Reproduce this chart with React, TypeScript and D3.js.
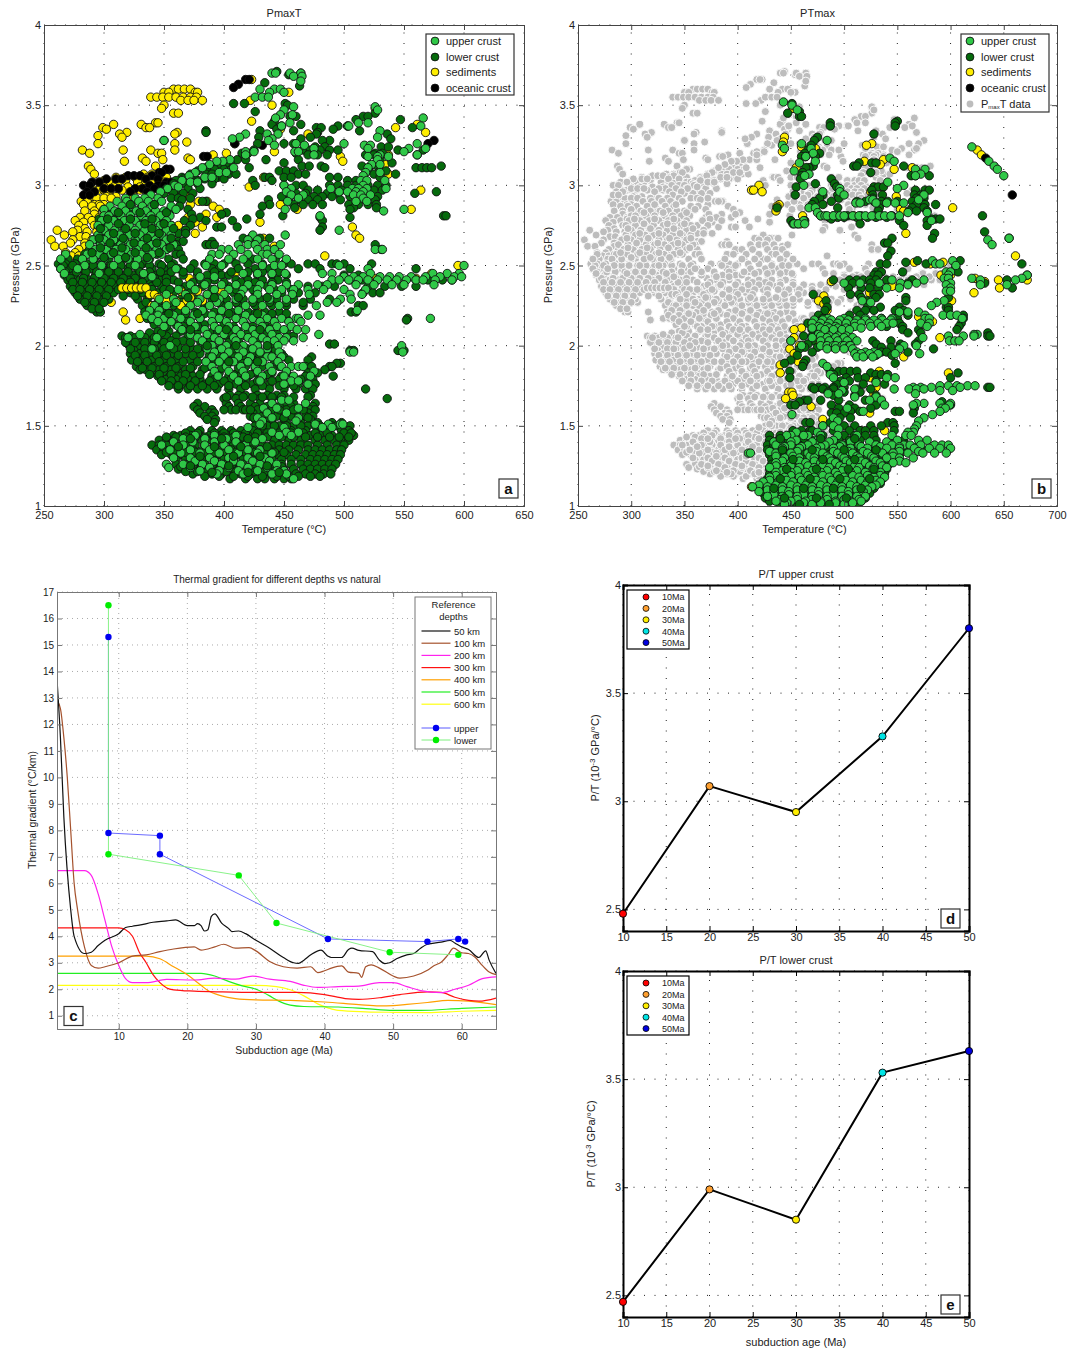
import * as d3 from "d3";
import { useEffect, useRef } from "react";

// scatter values: [pressure, [temperatures]]
type Row = [number, number[]];

const aSediments: Row[] = [
  [3.66, [423]], [3.58, [454]], [3.6, [358, 362, 367, 372]], [3.58, [350, 354, 376, 378]],
  [3.55, [339, 344, 349, 354, 360, 366, 372, 377]], [3.53, [364, 370, 375, 382]],
  [3.5, [350, 440]], [3.48, [348, 526]], [3.45, [358, 362]], [3.53, [422]], [3.4, [423]],
  [3.39, [343, 345]], [3.38, [308, 331, 561]], [3.36, [299, 335, 338, 543]], [3.35, [302, 447]],
  [3.33, [319, 361, 568]], [3.32, [313, 359, 470]], [3.31, [295]], [3.3, [315]], [3.27, [369]],
  [3.26, [295, 359, 409]], [3.22, [282, 316, 359, 339]], [3.21, [442]], [3.2, [288, 345, 348, 402]],
  [3.19, [391, 537]], [3.18, [497]], [3.17, [332, 370]], [3.16, [349, 372]], [3.15, [317, 335, 499]],
  [3.13, [534]], [3.12, [287, 343]], [3.1, [289, 352]], [3.07, [292, 537, 333, 340, 348]],
  [3.05, [310, 318, 326, 336, 344, 352, 433]], [3.03, [300, 318, 334, 344]], [3.02, [296, 304, 312, 328, 340, 350, 358]],
  [2.99, [421, 300, 308, 320, 330, 346, 356]], [2.97, [564, 292, 296, 300, 305, 315, 325, 330, 338, 352]],
  [2.93, [290, 302, 310, 322, 371]], [2.92, [294, 300, 306]], [2.9, [281, 286, 379, 386]], [2.88, [447, 283, 292, 296, 300, 372]],
  [2.87, [290, 297, 391]], [2.85, [461, 396, 556]], [2.84, [284, 292, 300]], [2.82, [385, 292]], [2.8, [280, 287, 394, 296, 370]],
  [2.78, [276, 290, 298]], [2.77, [283, 430, 376]], [2.75, [279, 292, 362]], [2.74, [507, 382]], [2.73, [284, 295]], [2.72, [261, 278, 368]],
  [2.71, [274, 286, 294]], [2.7, [376]], [2.69, [267, 510]], [2.68, [280, 285, 295]], [2.67, [433, 513]], [2.66, [256, 274, 290]],
  [2.64, [272, 284]], [2.62, [259, 266, 442, 284]], [2.6, [279, 442]], [2.58, [268, 276, 286]], [2.56, [273, 279, 284, 484]], [2.5, [595]],
  [2.46, [410]], [2.45, [573]], [2.42, [371, 527, 560]],
  [2.29, [303]], [2.27, [306]], [2.21, [316]], [2.17, [330]], [2.16, [318]], [2.22, [432]],
];

// yellow tracks that sit on top of the dark crust in the middle of panel a
const aSedimentsOver: Row[] = [
  [2.36, [315, 319, 323, 327, 331, 335]], [2.34, [364, 378, 398]], [2.32, [338, 342, 386]],
  [2.3, [345, 350, 355, 372]], [2.28, [352, 360, 369, 382]], [2.25, [340, 364]],
];

const aOceanic: Row[] = [
  [3.66, [418, 421]], [3.63, [412]], [3.61, [408]], [3.28, [575]], [3.26, [570, 409]], [3.25, [432]],
  [3.18, [383, 386]], [3.1, [355, 352]], [3.08, [346, 348]], [3.06, [340, 320, 325, 330]],
  [3.04, [302, 310, 315, 335, 345]], [3.02, [352, 356, 290, 296]], [3.0, [283, 288, 345, 350, 338]],
  [2.98, [332, 300, 306, 312, 342, 326]], [2.96, [286, 292, 336, 322]], [2.94, [283, 288]],
];

const aLower: Row[] = [
  [3.71, [444]], [3.7, [464]], [3.69, [454]], [3.64, [434]], [3.62, [463]], [3.51, [408, 417, 451]],
  [3.5, [453]], [3.46, [426]], [3.45, [526]], [3.43, [460, 516, 520, 455]], [3.41, [510, 547]],
  [3.4, [442]], [3.38, [440, 464]], [3.37, [495, 503, 448]], [3.36, [477, 481, 557]], [3.35, [491, 444]],
  [3.34, [385, 430, 458, 513]], [3.33, [385, 478]], [3.32, [477, 536]], [3.3, [429, 472]], [3.29, [539, 464]],
  [3.28, [350, 488, 482]], [3.26, [458, 428, 450]], [3.24, [531, 537, 476, 484]],
  [3.22, [566, 545, 466, 472, 480, 488, 495, 425]], [3.2, [415, 420, 460, 526, 532]],
  [3.19, [561, 470, 478, 486, 518, 525]], [3.16, [411, 418, 435, 462, 530]],
  [3.14, [405, 398, 450, 540]], [3.12, [392, 395, 402, 465, 471, 481, 581, 515, 522, 528]],
  [3.11, [560, 565, 569, 573, 421, 385, 484]], [3.1, [386, 392, 400, 406]], [3.09, [378, 446, 452, 458, 530, 535, 520]],
  [3.07, [372, 385, 390, 396, 404, 410, 543, 525, 462, 468]], [3.05, [365, 434, 438, 450, 456, 488, 495, 530, 395]],
  [3.04, [366, 376, 384, 392, 400]], [3.03, [360, 370, 378, 424, 440, 503, 510]], [3.01, [358, 368, 378, 390]],
  [3.0, [426, 450, 460, 466, 488, 495, 503, 510, 520, 528, 535]], [2.98, [352, 360, 370, 380]],
  [2.97, [360, 455, 470, 478, 498, 508, 516, 525, 532]], [2.96, [577]], [2.95, [559, 350, 358, 366, 374, 460, 468, 486, 495]],
  [2.93, [448, 455, 475, 482, 490, 505, 512, 520, 528]], [2.92, [356, 362, 372]], [2.91, [365, 437, 462, 470, 478, 497, 518, 526]],
  [2.9, [385, 382]], [2.88, [458, 466, 474, 482, 504, 512, 520, 527, 438]], [2.87, [432, 363]],
  [2.86, [527, 508, 459]], [2.85, [300, 330, 355, 370, 505]],
  [2.83, [402, 307, 322, 340]], [2.82, [430, 398, 373]], [2.81, [449, 583, 585]], [2.8, [480, 505, 380]],
  [2.79, [419, 374, 296, 312, 330, 350]], [2.78, [407, 482, 367, 385]], [2.75, [300, 318, 336, 356, 372]],
  [2.74, [394, 398, 411, 482]], [2.72, [480, 300, 326, 345, 368]], [2.7, [302, 322, 340, 362, 368]],
  [2.67, [416, 422, 430, 438]], [2.65, [296, 312, 330, 350, 362, 366, 390]],
  [2.63, [526, 385, 388, 392, 308, 340, 360]], [2.6, [288, 300, 318, 336, 352, 362, 531]],
  [2.57, [284, 310, 328, 344, 360, 364]], [2.54, [270, 278, 292, 304, 322, 338, 354, 366, 406, 424, 443]],
  [2.51, [523, 262, 268, 276, 286, 298, 314, 332, 346, 358, 375, 384, 392, 400, 410, 420, 432, 450, 456, 470, 476, 490, 494, 500]],
  [2.48, [264, 272, 281, 290, 302, 310, 320, 328, 340, 350, 362, 372, 390, 396, 412, 426, 438, 446, 462, 480, 505, 560]],
  [2.44, [267, 275, 284, 293, 300, 308, 316, 324, 334, 344, 352, 366, 378, 386, 398, 404, 418, 428, 440, 452, 500, 512]],
  [2.41, [270, 280, 288, 296, 304, 312, 320, 330, 338, 346, 358, 380, 392, 410, 420, 432, 445, 505, 515, 528, 560, 570, 582, 590]],
  [2.37, [272, 278, 286, 294, 302, 310, 318, 326, 340, 348, 368, 382, 398, 404, 418, 436, 470, 482, 492, 520, 534, 548, 560]],
  [2.33, [276, 284, 292, 300, 308, 322, 332, 344, 358, 372, 392, 408, 426, 448, 462, 476, 516, 524, 530]],
  [2.29, [280, 288, 296, 304, 328, 336, 350, 364, 376, 390, 402, 416, 430, 444, 458, 472, 488]],
  [2.25, [286, 293, 332, 340, 346, 358, 370, 384, 398, 412, 426, 440, 452, 466, 512, 516]],
  [2.21, [294, 297, 334, 344, 352, 362, 376, 392, 406, 420, 434, 446, 506, 510]],
  [2.17, [336, 346, 356, 368, 380, 396, 410, 424, 440, 452, 553]], [2.16, [552, 340, 350]],
  [2.13, [342, 350, 360, 372, 384, 400, 418, 434]],
  [2.09, [345, 354, 364, 378, 394, 412, 428, 444, 452]],
  [2.06, [315, 322, 330, 352, 360, 370, 386, 402, 418, 436, 458]], [2.03, [322, 330, 338, 346, 356, 366, 380, 396, 412, 428]],
  [2.01, [488, 492, 320, 342, 350]], [1.99, [330, 338, 346, 354, 362, 372, 384, 398, 414, 428, 440]],
  [1.97, [505, 508, 325, 550, 547, 545, 443]], [1.95, [322, 330, 338, 348, 358, 368, 380, 394, 408, 424, 436, 448]],
  [1.93, [473, 327, 450]], [1.91, [323, 332, 340, 350, 360, 372, 386, 400, 414, 428, 442, 454, 470]],
  [1.89, [497, 494]], [1.87, [327, 333, 342, 352, 362, 374, 388, 402, 418, 432, 446, 468, 488, 490, 473]],
  [1.85, [330, 335, 484, 346, 356, 368, 382]], [1.83, [340, 350, 362, 372, 396, 412, 426, 440, 452, 470, 478]],
  [1.81, [345, 355, 364, 374, 390, 404, 420, 434, 448, 491, 468]], [1.79, [352, 360, 370, 380, 392, 406, 418, 432, 446, 464, 474]],
  [1.76, [358, 366, 374, 384, 396, 410, 424, 438, 452, 462, 470, 476]],
  [1.73, [362, 370, 378, 386, 394, 404, 414, 426, 438, 450, 460, 468, 474, 518]],
  [1.69, [405, 412, 418, 428, 436, 444, 450, 472]], [1.67, [536, 400, 410, 430, 440, 448]],
  [1.64, [378, 402, 412, 422, 430, 440, 452, 458, 476]], [1.62, [375, 384, 404, 414, 426, 436, 446, 456, 468, 474]],
  [1.6, [378, 390, 406, 410, 416, 428, 440, 452, 462, 472, 476]], [1.58, [380, 388, 392, 424, 436, 448, 460, 470]],
  [1.56, [384, 390, 422, 432, 444, 456, 468, 474]], [1.54, [386, 393, 426, 438, 450, 462, 472]],
  [1.52, [392, 428, 440, 452, 464, 478, 490, 498]],
  [1.5, [426, 436, 446, 458, 470, 480, 490, 505, 494]],
  [1.47, [372, 380, 390, 398, 406, 414, 424, 432, 444, 456, 468, 478, 488, 498, 504]],
  [1.44, [358, 364, 372, 380, 388, 396, 404, 412, 420, 430, 440, 450, 462, 472, 480, 490, 500, 508]],
  [1.41, [346, 352, 358, 366, 374, 382, 390, 398, 406, 414, 422, 430, 442, 454, 464, 476, 484, 492, 498, 504]],
  [1.38, [340, 346, 352, 360, 368, 376, 384, 392, 400, 408, 416, 424, 432, 440, 446, 452, 458, 464, 470, 478, 486, 494, 500]],
  [1.35, [344, 350, 358, 366, 374, 382, 390, 398, 406, 414, 422, 430, 438, 446, 454, 462, 470, 476, 482, 488, 494, 498]],
  [1.32, [348, 356, 364, 372, 380, 388, 396, 404, 412, 420, 428, 436, 444, 452, 460, 468, 474, 480, 486, 492, 497]],
  [1.29, [360, 368, 376, 384, 392, 400, 408, 416, 424, 432, 440, 448, 456, 464, 472, 478, 484, 490, 495]],
  [1.26, [360, 368, 376, 384, 392, 400, 408, 416, 424, 432, 440, 448, 456, 464, 470, 476, 482, 488, 493]],
  [1.23, [362, 372, 380, 388, 396, 404, 412, 420, 428, 436, 444, 450, 458, 466, 472, 478, 484, 490]],
  [1.2, [374, 384, 390, 398, 406, 414, 422, 430, 438, 446, 452, 460, 468, 476, 483, 489]],
  [1.17, [405, 418, 428, 434, 442, 450, 456]],
];

const aLowerFill: Row[] = [
  [2.5, [266, 274, 283, 291, 299, 306, 314, 322, 330, 338, 348, 356]],
  [2.46, [268, 277, 285, 294, 304, 312, 320, 330, 338, 347, 356, 366, 378, 392, 406, 420, 432, 446]],
  [2.42, [272, 283, 292, 300, 308, 316, 326, 334, 342, 352]],
  [2.395, [274, 282, 290, 298, 306, 314, 322, 332, 344, 352, 362, 374, 386, 400, 414, 426, 440, 452]],
  [2.35, [274, 280, 288, 296, 304, 312, 320, 330, 340, 350, 355, 364, 378, 390, 410, 424, 442, 456]],
  [2.31, [278, 286, 294, 302, 316, 326, 338, 352]],
  [2.27, [284, 292, 300, 335, 345, 355, 365, 382, 396, 410, 424, 438, 452, 466]],
  [2.23, [290, 296, 338, 348]],
  [2.2, [356, 368, 384, 398, 412, 426, 440, 452]],
  [2.12, [352, 366, 378, 392, 408, 424, 440]],
  [2.08, [338, 348, 372, 388, 404, 420, 436]],
  [2.05, [318, 326, 334, 342]],
  [2.02, [318, 326, 334, 342, 350, 360, 372, 388, 404]],
  [1.98, [322, 334, 342, 350, 358, 368, 378, 392, 408, 420]],
  [1.94, [326, 334, 344, 352, 362, 374, 388, 402, 416, 430]],
  [1.9, [328, 336, 346, 356, 366, 378, 392, 406, 422]],
  [1.86, [332, 340, 350, 360, 372, 384, 398, 412, 426, 440]],
  [1.82, [338, 346, 356, 368, 380, 394, 408, 422, 436]],
  [1.78, [348, 356, 366, 376, 388, 400, 414, 428, 440]],
  [1.75, [354, 362, 372, 382, 392, 404, 418, 432, 446, 458]],
  [1.68, [402, 416, 424, 432, 440, 448, 458, 470]],
  [1.6, [400, 418, 422, 434, 446, 458, 466]],
  [1.55, [425, 438, 450, 462, 470]],
  [1.5, [432, 442, 452, 464, 476, 486]],
  [1.455, [368, 378, 392, 400, 408, 418, 428, 436, 446, 456, 466, 476, 486, 500, 506]],
  [1.43, [352, 360, 368, 376, 384, 392, 400, 408, 416, 426, 436, 448, 458, 468, 478, 488, 496, 504]],
  [1.335, [352, 360, 368, 376, 384, 392, 402, 410, 418, 426, 434, 442, 450]],
  [1.245, [364, 374, 382, 390, 398, 406, 414, 424, 432, 440, 448]],
  [1.215, [368, 378, 386, 394, 402, 410, 418, 426, 434, 442]],
  [1.185, [384, 396, 408, 420, 432, 444, 454, 462, 472, 480]],
];

const aUpper: Row[] = [
  [3.7, [440, 443, 455, 464]], [3.68, [458, 465]], [3.65, [464]], [3.6, [430, 442, 447]], [3.58, [438, 450]],
  [3.55, [426, 432, 437]], [3.49, [458, 526]], [3.47, [528, 450]], [3.44, [447, 457]], [3.42, [443, 566]],
  [3.39, [455, 512, 520]], [3.37, [448, 503, 504, 564]], [3.34, [530]], [3.32, [445, 436, 418]], [3.3, [528, 413]],
  [3.29, [407, 440]], [3.28, [350, 437]], [3.26, [460, 500, 561]], [3.25, [442, 467, 517, 522]],
  [3.23, [475, 520, 554, 568]], [3.21, [459, 462, 550, 418, 425]], [3.19, [475, 561, 530, 418]],
  [3.18, [520, 528, 537]], [3.16, [405, 528]], [3.15, [399, 394]], [3.13, [523, 388, 530]], [3.11, [382, 520, 408]],
  [3.08, [376, 518, 530, 396, 402]], [3.06, [371, 516]], [3.05, [384, 390]], [3.03, [365, 514, 519, 534]], [3.02, [372, 378]], [3.0, [359, 450, 516]],
  [2.99, [362]], [2.98, [353, 456, 489, 507, 512, 519, 535]], [2.96, [347, 452, 496, 503, 510, 516]],
  [2.94, [339, 456, 466, 508, 514, 522]], [2.92, [318, 326, 334, 345, 462, 516]],
  [2.9, [311, 319, 329, 337, 348, 453, 510, 519]], [2.87, [305, 315, 323, 332, 340, 356]],
  [2.85, [451, 360, 300, 550]], [2.84, [309, 318, 327, 335, 343, 350, 533]],
  [2.81, [300, 304, 314, 322, 331, 339, 347, 355, 480]], [2.78, [298, 308, 317, 326, 335, 343, 352]],
  [2.75, [295, 304, 313, 321, 330, 339, 347, 356]], [2.72, [300, 309, 317, 326, 334, 343, 352, 496]],
  [2.69, [295, 304, 313, 321, 330, 339, 348, 356, 451, 424]], [2.66, [291, 300, 308, 317, 326, 334, 343, 352, 420, 428]],
  [2.63, [288, 297, 305, 314, 322, 331, 339, 348, 358, 412, 420, 426, 434, 447]],
  [2.6, [293, 302, 310, 318, 327, 336, 344, 352, 398, 404, 414, 428, 436, 442, 526, 532]],
  [2.57, [268, 286, 296, 306, 314, 323, 331, 340, 348, 390, 396, 408, 420, 432, 436, 446]],
  [2.54, [264, 282, 291, 300, 312, 320, 328, 337, 388, 404, 416, 428, 440, 452]],
  [2.5, [284, 298, 308, 326, 385, 398, 432, 442, 448, 496, 600]], [2.48, [264, 278, 360, 520]],
  [2.45, [267, 296, 333, 416, 428, 440, 451, 482, 490, 522, 574, 586, 596]],
  [2.43, [340, 380, 392, 500, 508, 516, 530, 538, 546, 556, 568, 580, 592, 598]],
  [2.41, [490, 496, 504, 512, 520, 528, 536, 544, 552, 560, 566, 576, 590]],
  [2.38, [372, 384, 398, 410, 420, 430, 440, 452, 462, 478, 486, 510, 525, 540, 550, 575]],
  [2.35, [362, 376, 392, 404, 416, 428, 438, 448, 458, 470, 483, 500, 518]],
  [2.32, [352, 368, 386, 400, 414, 428, 444, 457, 471, 505, 515]],
  [2.29, [346, 358, 380, 396, 410, 424, 438, 452, 497, 506]], [2.27, [360, 378, 394, 486, 494]],
  [2.25, [342, 352, 372, 388, 404, 418, 432, 446, 477]], [2.22, [338, 346, 368, 382, 398, 412, 511]],
  [2.19, [335, 345, 358, 375, 390, 405, 418, 432, 480, 470]],
  [2.17, [340, 350, 364, 380, 396, 410, 424, 436, 448, 460, 462, 572]], [2.15, [345, 356, 372, 390, 402, 416, 430, 442, 454, 464]],
  [2.12, [350, 362, 376, 392, 404, 418, 432, 444, 456]], [2.1, [365, 384, 396, 410, 424, 438, 450, 461, 468]],
  [2.07, [330, 372, 386, 400, 414, 426, 440, 479]], [2.05, [320, 344, 378, 392, 408, 420, 432, 446, 452, 466]],
  [2.03, [382, 396, 410, 424, 436, 442, 450, 458]], [2.0, [548, 355, 390, 402, 416, 428, 445]],
  [1.98, [340, 386, 398, 412, 424, 436]], [1.96, [505, 508, 392, 404, 416, 430, 446, 549]],
  [1.93, [390, 400, 412, 422, 436, 440, 448]], [1.9, [385, 396, 408, 420, 432, 445]],
  [1.87, [390, 402, 414, 426, 438, 448, 456, 462, 466]], [1.84, [392, 404, 416, 428, 440, 452, 475]],
  [1.81, [395, 408, 418, 432, 450, 458, 472]], [1.78, [412, 430, 456, 462]], [1.76, [450, 470]],
  [1.66, [448, 454]], [1.64, [440, 468]], [1.61, [433, 444, 462]], [1.58, [436, 452]], [1.55, [428, 440, 462]],
  [1.53, [432, 460]], [1.51, [430, 476, 487, 497, 499]], [1.49, [420, 450, 482, 490]],
  [1.46, [440, 452, 462]], [1.44, [376, 392, 410, 446, 456]], [1.42, [366, 384, 402, 420, 432]],
  [1.4, [358, 374, 392, 410, 426]], [1.38, [348, 366, 384, 400, 418]],
  [1.35, [355, 372, 388, 404, 420, 430]], [1.33, [364, 380, 396, 412, 428, 440]],
  [1.3, [358, 372, 388, 404, 420, 434]], [1.28, [376, 392, 408, 424, 438]],
  [1.26, [352, 366, 382, 398, 414, 430, 444]], [1.24, [354, 372, 388, 404, 420, 436]],
  [1.22, [380, 396, 412, 428, 444, 450]], [1.2, [394, 416, 440, 452]], [1.17, [458]],
];

// dark points that lie on top of the light ones
const aLowerOver: Row[] = [
  [2.88, [322, 342]], [2.83, [312, 330, 352]], [2.79, [303, 322, 340]], [2.76, [312, 334, 350]],
  [2.73, [297, 318, 340, 358]], [2.7, [308, 326, 346]], [2.67, [296, 316, 336, 356]], [2.64, [305, 325, 344]],
  [2.61, [297, 315, 335, 355]], [2.58, [290, 308, 326, 346]], [2.55, [300, 318, 336]],
  [2.3, [370, 392, 412, 436]], [2.2, [354, 378, 404, 428]], [2.1, [372, 402, 430]], [2.0, [386, 410, 436]],
  [1.9, [404, 428]], [1.42, [372, 398, 420]], [1.37, [362, 392, 414, 436]], [1.31, [380, 408, 430]],
  [1.25, [372, 404, 436]], [1.21, [390, 420, 446]],
];

const bSediments: Row[] = [
  [3.48, [452]], [3.3, [444]], [3.27, [443]], [3.26, [526]], [3.25, [521]], [3.24, [460]], [3.23, [473]],
  [3.22, [625]], [3.21, [442]], [3.19, [629]], [3.16, [537]], [3.15, [519]], [3.13, [534]], [3.11, [564, 455]],
  [3.1, [547]], [3.0, [420]], [2.97, [413, 415]], [2.96, [423, 525]], [2.93, [549]], [2.88, [439]],
  [2.87, [437]], [2.86, [602]], [2.85, [553]], [2.84, [436, 556]], [2.81, [478, 509, 461]], [2.76, [459]],
  [2.7, [558]], [2.56, [661]], [2.52, [566, 593]], [2.51, [581]], [2.44, [600, 591]], [2.42, [623]],
  [2.41, [645, 672]], [2.4, [632, 488, 530]], [2.37, [545]], [2.36, [646]], [2.33, [622, 524]], [2.31, [481]],
  [2.28, [601, 476]], [2.26, [481]], [2.22, [484]], [2.18, [570]], [2.15, [583, 511]], [2.11, [460]],
  [2.1, [453, 481]], [2.05, [590, 453]], [2.03, [450, 480, 473]], [2.0, [458, 462]], [1.98, [449]], [1.95, [453]],
  [1.93, [556]], [1.9, [457]], [1.88, [440]], [1.84, [533]], [1.83, [440, 598]], [1.8, [525]], [1.74, [530]],
  [1.71, [448, 451]], [1.7, [528]], [1.69, [452]], [1.67, [445]], [1.62, [469]], [1.58, [524]], [1.54, [480]],
  [1.47, [538, 516]], [1.38, [525]], [1.36, [432]], [1.32, [436]], [1.29, [519]], [1.12, [413]],
];

const bOceanic: Row[] = [[3.17, [633]], [2.94, [658]]];

const bLower: Row[] = [
  [3.51, [451]], [3.46, [458]], [3.45, [447]], [3.43, [458, 460]], [3.4, [550]], [3.39, [487, 548]], [3.37, [487, 548]],
  [3.32, [528]], [3.3, [475]], [3.28, [472]], [3.25, [469]], [3.22, [466]], [3.2, [463, 477]], [3.18, [460, 464, 473]],
  [3.14, [526, 514, 530]], [3.12, [509, 512, 556, 471]], [3.11, [467, 464]], [3.08, [525, 461]], [3.06, [460, 580, 563, 567]],
  [3.04, [488, 459]], [3.01, [491, 473]], [2.99, [455, 493, 528, 532, 537]], [2.97, [567, 576, 580, 526]],
  [2.94, [454, 527, 536, 566, 572, 480, 494]], [2.92, [477, 495, 527, 568, 575]], [2.9, [472, 488, 512, 520, 528, 535, 541, 550, 564, 572]],
  [2.88, [470, 480, 586, 534, 568, 576]], [2.86, [437, 494, 533, 564, 575]], [2.84, [532, 561, 568, 578]],
  [2.81, [630, 490, 503, 516, 528, 534, 545]], [2.8, [486, 494, 500, 512, 522, 530, 540]], [2.79, [488, 586, 582, 590]], [2.78, [450, 463, 552, 578]],
  [2.76, [452, 515, 456]], [2.75, [556, 578]], [2.71, [632]], [2.7, [585]], [2.67, [545, 583, 655]], [2.64, [538, 541]],
  [2.59, [544]], [2.56, [541]], [2.53, [569, 609]], [2.52, [558]], [2.51, [577, 667, 534, 540]], [2.49, [605]],
  [2.46, [530, 535, 555, 607]], [2.44, [528, 532, 672]], [2.41, [490, 505, 512, 518, 524, 530, 653, 540, 564]],
  [2.39, [508, 525, 628, 632, 560]], [2.36, [504, 516, 524, 532, 658]], [2.32, [471, 506, 514, 528, 533]],
  [2.3, [516, 530, 558, 598]], [2.28, [558, 483, 522]], [2.24, [484, 522, 534, 552, 596, 598]],
  [2.22, [482, 512, 520, 528, 548, 556, 598]], [2.19, [476, 505, 515, 600, 612, 560]], [2.17, [612, 480, 535, 550]],
  [2.14, [466, 470, 528, 540, 552, 610]], [2.12, [540, 555, 608]], [2.1, [470, 475, 555, 570, 606]],
  [2.08, [560, 572, 635]], [2.06, [635, 637, 462, 470]], [2.03, [470, 527, 544, 570]], [2.01, [466, 480, 530, 553, 567]],
  [1.99, [463, 475, 490, 535, 544, 552]], [1.98, [584, 458]], [1.96, [470, 535, 540, 560]], [1.94, [456, 530, 520, 545]],
  [1.91, [450, 464]], [1.89, [548, 444, 462]], [1.87, [461]], [1.84, [449, 487, 495, 500, 506, 512]],
  [1.83, [607, 525]], [1.82, [490, 530, 535, 541]], [1.8, [449, 513, 600, 502, 520]], [1.78, [497, 505, 530]],
  [1.76, [493, 518, 538]], [1.74, [635, 637, 470, 476, 482, 490, 500]], [1.73, [472, 480, 490, 512, 525]],
  [1.71, [485, 500, 515]], [1.69, [490, 510, 530]], [1.66, [463, 466, 478, 495, 520, 527]], [1.65, [592, 458]],
  [1.63, [450, 454, 488, 505, 530, 600]], [1.61, [495, 510, 525, 566]], [1.59, [548, 506, 515, 552]],
  [1.58, [500, 488, 493, 565]], [1.55, [496, 506]], [1.52, [464, 468, 487, 541, 546]], [1.5, [480, 500, 510, 525, 535, 547]],
  [1.47, [452, 460, 468, 515, 520, 528, 470, 490, 505, 547]], [1.44, [430, 440, 448, 456, 464, 480, 500, 510, 520, 528]],
  [1.41, [430, 438, 446, 454, 462, 470, 495, 505, 515, 530, 548, 556]],
  [1.38, [428, 434, 442, 450, 458, 466, 480, 490, 500, 510, 530, 540, 548, 558, 570]],
  [1.35, [428, 436, 444, 452, 460, 468, 476, 484, 492, 500, 508, 516, 524, 532, 560, 574]],
  [1.32, [430, 438, 446, 454, 462, 470, 478, 486, 494, 502, 510, 518, 526, 534, 542, 552]],
  [1.29, [432, 440, 448, 456, 464, 472, 480, 488, 496, 504, 512, 520, 528, 536, 544]],
  [1.26, [432, 438, 446, 454, 462, 470, 478, 486, 494, 502, 510, 518, 526, 534, 542]],
  [1.23, [430, 436, 444, 452, 460, 468, 476, 484, 492, 500, 508, 516, 524, 532, 540]],
  [1.2, [430, 436, 444, 452, 460, 468, 476, 484, 492, 500, 508, 516, 524, 532, 538]],
  [1.17, [428, 434, 442, 450, 458, 466, 474, 482, 490, 498, 506, 514, 522, 530, 536]],
  [1.14, [424, 432, 440, 448, 456, 464, 472, 480, 488, 496, 504, 512, 520, 528, 534]],
  [1.11, [420, 428, 436, 444, 452, 460, 468, 476, 484, 492, 500, 508, 516, 524, 528]],
  [1.08, [424, 432, 440, 448, 456, 464, 472, 480, 488, 496, 504, 512, 520, 524]],
  [1.05, [426, 434, 442, 450, 458, 466, 474, 482, 490, 498, 506, 514, 520]],
  [1.03, [430, 438, 446, 454, 462, 470, 478, 486, 494, 502, 510, 516]],
  [1.01, [440, 448, 456, 464, 472, 480, 488, 496, 504, 512]],
];

const bUpper: Row[] = [
  [3.52, [443]], [3.5, [451]], [3.47, [456]], [3.28, [484]], [3.26, [460]], [3.25, [442]], [3.24, [620]],
  [3.23, [469, 444]], [3.2, [471]], [3.18, [464]], [3.17, [543]], [3.15, [473, 636, 547]], [3.14, [458]],
  [3.12, [641]], [3.1, [644, 576, 567]], [3.09, [453]], [3.07, [572, 467]], [3.06, [650, 567, 463]], [3.02, [541]],
  [3.0, [462, 556]], [2.98, [550, 496]], [2.96, [496, 480]], [2.94, [575, 500]], [2.91, [524, 527, 570]],
  [2.89, [511, 515, 530, 540, 548, 556]], [2.86, [467, 473]], [2.83, [560, 578, 475]],
  [2.81, [478, 482, 484, 490, 496, 500, 508, 514, 520, 526, 533, 538, 544, 552]], [2.78, [582, 462]], [2.76, [453, 457, 463]], [2.67, [655]],
  [2.66, [635]], [2.63, [639]], [2.53, [583, 602]], [2.51, [586, 590]], [2.5, [605]],
  [2.46, [596, 600]], [2.44, [672, 598]], [2.42, [594, 598, 667, 620]], [2.41, [545, 661, 628, 575]],
  [2.39, [500, 515, 533, 553, 568, 600]], [2.38, [628, 653, 596, 560]], [2.36, [540, 552, 600]], [2.34, [596, 600]],
  [2.28, [594, 517]], [2.27, [587, 525]], [2.25, [582]], [2.21, [552, 560, 570]], [2.19, [576, 593, 600, 606]],
  [2.17, [485, 500, 520, 535, 545, 576, 580, 611]], [2.16, [472, 480, 488, 496, 504, 512, 520, 528, 536, 544]],
  [2.14, [470, 478, 486, 494, 502, 510, 516, 524, 532, 540, 546, 572, 580]],
  [2.12, [476, 484, 492, 510, 525, 535, 578]], [2.11, [470, 478, 486, 494, 502, 516]], [2.1, [482, 490, 498, 505]], [2.07, [476, 625, 622]],
  [2.06, [598, 612, 622, 478, 486, 494, 502]], [2.05, [470, 484, 492, 500, 508, 574]], [2.03, [450, 478, 486, 494, 503, 512, 599, 604, 608]],
  [2.0, [478, 484, 490, 492, 498, 500, 505, 506, 568, 460, 556]], [1.98, [484, 492, 500, 508, 552]], [1.96, [512, 520, 528]], [1.95, [510, 516, 524, 532, 571, 548]],
  [1.93, [512, 518, 527]], [1.89, [480]], [1.87, [484]], [1.82, [487]], [1.8, [490, 548, 540]], [1.77, [500, 530]],
  [1.75, [590, 598, 606, 616, 623]], [1.74, [565, 572, 582, 609]], [1.73, [561, 568, 575, 547, 510]],
  [1.72, [498, 590, 602]], [1.7, [485, 495, 567]], [1.68, [510, 530]], [1.66, [535, 524]], [1.64, [575, 568, 590, 600]],
  [1.63, [565, 599, 538]], [1.61, [592, 503, 595]], [1.59, [590, 518]], [1.57, [451, 583]], [1.55, [575, 490]],
  [1.53, [570, 494]], [1.5, [568, 480, 490]], [1.48, [566, 495]], [1.46, [565, 455, 475, 560]],
  [1.44, [450, 466, 545, 558, 563, 446, 462, 478, 494, 512]], [1.41, [440, 455, 475, 490, 550, 570, 578]],
  [1.4, [434, 450, 470, 486, 506, 524, 540]],
  [1.38, [436, 450, 466, 482, 498, 514, 530, 545, 556, 562, 572, 585, 592, 598]],
  [1.37, [444, 460, 478, 496, 516, 534, 552]],
  [1.36, [442, 458, 474, 490, 506, 522, 540, 552, 566, 580, 590, 600]],
  [1.34, [430, 456, 474, 490, 504, 518, 532, 552, 570]],
  [1.33, [410, 412, 436, 450, 466, 480, 494, 508, 522, 536, 546, 560, 574, 585, 596]],
  [1.31, [436, 452, 468, 484, 498, 512, 526, 546]],
  [1.3, [444, 458, 472, 486, 500, 514, 528, 540, 552, 565]],
  [1.28, [442, 458, 472, 488, 502, 516, 530, 552]],
  [1.27, [436, 450, 464, 478, 492, 506, 520, 534, 546, 558]],
  [1.25, [436, 450, 466, 480, 496, 510, 524, 536]],
  [1.24, [430, 444, 458, 472, 486, 500, 514, 528, 540]],
  [1.22, [442, 456, 470, 484, 498, 512, 526]],
  [1.21, [436, 450, 464, 478, 492, 506, 520, 534]],
  [1.19, [436, 450, 466, 480, 494, 508, 522, 534]],
  [1.18, [430, 444, 458, 472, 486, 500, 514, 528, 538]],
  [1.16, [430, 446, 460, 474, 488, 502, 516, 530]],
  [1.15, [424, 438, 452, 466, 480, 494, 508, 522, 534]],
  [1.13, [420, 436, 450, 464, 478, 492, 506, 520, 530]],
  [1.12, [414, 428, 442, 456, 470, 484, 498, 512, 526]],
  [1.1, [428, 442, 456, 470, 484, 498, 512, 522]],
  [1.09, [420, 434, 448, 462, 476, 490, 504, 518]],
  [1.07, [434, 448, 462, 476, 490, 504, 516]],
  [1.06, [428, 442, 456, 470, 484, 498, 512, 520]],
  [1.04, [440, 456, 470, 484, 500, 514]],
  [1.03, [436, 450, 464, 478, 492, 506, 516]],
  [1.02, [446, 462, 478, 492, 508]],
  [1.01, [444, 470, 500]],
];

const bLowerOver: Row[] = [
  [1.42, [440, 478, 510]], [1.35, [442, 470, 500, 530]], [1.29, [452, 480, 510]], [1.23, [446, 474, 504, 528]],
  [1.17, [440, 468, 496, 524]], [1.11, [434, 462, 490, 516]], [1.05, [444, 474, 502]], [1.01, [458, 486]],
];

// panel c: thermal gradient curves [age, gradient]
const curve50: [number, number][] = [[1, 13.7], [1.5, 11.5], [2, 8.5], [3, 5], [3.5, 4], [5, 3.35], [6, 3.4], [7, 3.65], [8, 3.85], [10, 4.1], [11, 4.33], [12, 4.38], [13, 4.42], [15, 4.53], [17, 4.58], [18.3, 4.62], [20, 4.4], [21, 4.4], [21.5, 4.48], [22, 4.4], [22.5, 4.2], [23, 4.25], [23.5, 4.75], [24, 4.85], [25, 4.5], [26, 4.3], [26.5, 4.18], [27.5, 4.2], [28.5, 4.1], [30, 3.85], [32, 3.55], [34, 3.2], [35.5, 3], [36.2, 2.98], [37, 3.1], [38, 3.3], [39.5, 3.48], [40.5, 3.25], [41, 3.2], [42.5, 3.2], [43.5, 3.5], [44, 3.55], [45, 3.47], [47, 3.42], [48, 3.1], [48.8, 2.97], [49.5, 3], [50.5, 3.15], [52, 3.3], [53, 3.35], [54, 3.55], [55, 3.7], [57, 3.78], [58.3, 3.85], [59, 3.75], [60, 3.6], [61, 3.5], [62.5, 3.2], [63.5, 3.45], [64, 3.1], [65, 2.6]];
const curve100: [number, number][] = [[1, 12.9], [1.5, 12.6], [2, 11.5], [2.5, 10], [3, 8], [3.5, 6], [4, 5], [5, 3.6], [6, 2.9], [7, 2.8], [8, 2.85], [10, 3], [12, 3.25], [14, 3.3], [16, 3.42], [18, 3.52], [21, 3.6], [22, 3.48], [24, 3.6], [25.3, 3.7], [27, 3.55], [29, 3.57], [30, 3.45], [32, 3.05], [34, 2.85], [36, 2.8], [38, 2.85], [39, 2.63], [40, 2.7], [41, 2.8], [42.5, 2.88], [43.5, 2.65], [45, 2.6], [45.4, 2.45], [46, 2.85], [46.8, 2.92], [48, 2.8], [50, 2.5], [51, 2.42], [53, 2.5], [55, 2.72], [56, 2.9], [57, 3.02], [58, 3.3], [58.8, 3.55], [60, 3.38], [61, 3.35], [62, 3.2], [63, 2.9], [64, 2.65], [65, 2.55]];
const curve200: [number, number][] = [[1, 6.48], [5, 6.48], [6, 6.3], [7, 5.6], [8, 4.6], [9, 3.6], [10, 2.9], [11, 2.4], [12, 2.25], [14, 2.25], [17, 2.37], [21, 2.35], [24, 2.42], [27, 2.38], [29.5, 2.5], [32, 2.38], [35, 2.3], [37, 2.15], [39, 2.07], [42, 2.1], [45, 2.12], [48, 2.25], [50, 2.25], [52, 2.1], [54, 1.95], [57, 1.87], [59, 2], [61, 2.15], [63, 2.4], [65, 2.47]];
const curve300: [number, number][] = [[1, 4.32], [10, 4.32], [11, 4.25], [12, 4], [13, 3.4], [14, 3], [15, 2.55], [16, 2.25], [17, 2.05], [18, 1.98], [21, 1.93], [25, 1.9], [30, 1.88], [36, 1.88], [40, 1.8], [43, 1.65], [45, 1.62], [48, 1.68], [51, 1.8], [55, 1.9], [57, 1.88], [59, 1.7], [61, 1.58], [62.5, 1.55], [65, 1.67]];
const curve400: [number, number][] = [[1, 3.25], [14, 3.25], [16, 3.15], [18, 2.85], [20, 2.55], [22, 2.15], [23, 1.95], [25, 1.75], [27, 1.65], [30, 1.6], [35, 1.58], [40, 1.52], [45, 1.42], [48, 1.37], [50, 1.38], [52, 1.43], [55, 1.5], [58, 1.58], [61, 1.55], [65, 1.42]];
const curve500: [number, number][] = [[1, 2.6], [22, 2.6], [24, 2.5], [26, 2.3], [28, 2.13], [30, 2], [32, 1.75], [33, 1.6], [35, 1.4], [37, 1.35], [42, 1.33], [46, 1.27], [50, 1.2], [54, 1.2], [60, 1.28], [65, 1.33]];
const curve600: [number, number][] = [[1, 2.15], [30, 2.15], [33, 2.1], [35, 1.98], [37, 1.75], [39, 1.45], [40.5, 1.3], [42, 1.2], [46, 1.15], [50, 1.13], [55, 1.12], [60, 1.17], [65, 1.2]];
const upperGrad: [number, number][] = [[8.5, 15.3], [8.5, 7.9], [16, 7.8], [16, 7.1], [40.5, 3.9], [55, 3.8], [59.5, 3.9], [60.5, 3.8]];
const lowerGrad: [number, number][] = [[8.5, 16.5], [8.5, 7.1], [27.5, 6.3], [33, 4.5], [49.5, 3.4], [59.5, 3.3]];

const depthNames = ["50 km", "100 km", "200 km", "300 km", "400 km", "500 km", "600 km"];
const depthCurves = [curve50, curve100, curve200, curve300, curve400, curve500, curve600];
const depthColors = ["#111111", "#a5522d", "#ff22ee", "#ff1111", "#ffa000", "#22ee22", "#ffff11"];

// panels d, e
const ages = [10, 20, 30, 40, 50];
const ageNames = ["10Ma", "20Ma", "30Ma", "40Ma", "50Ma"];
const ageColors = ["#ff0000", "#ffa030", "#ffee00", "#00e5e5", "#0000e0"];
const ptUpper = [2.48, 3.07, 2.95, 3.3, 3.8];
const ptLower = [2.47, 2.99, 2.85, 3.53, 3.63];

const FONT = "'Liberation Sans', Arial, sans-serif";
const LIGHT = "#2fc847";
const DARK = "#056b0c";
const YEL = "#ffee00";

const flat = (rows: Row[]) => rows.flatMap(([p, ts]) => ts.map((t) => [t, p] as [number, number]));

type Sel = d3.Selection<any, unknown, null, undefined>;
type Layer = [Row[], string];

function text(g: Sel, x: number, y: number, s: string, size = 11, anchor = "middle") {
  return g.append("text").attr("x", x).attr("y", y).attr("font-size", size).attr("text-anchor", anchor).attr("fill", "#222").text(s);
}

function frame(g: Sel, x: d3.ScaleLinear<number, number>, y: d3.ScaleLinear<number, number>, xt: number[], yt: number[], o: { color: string; width: number; grid: string; size: number; dash: string; xpad: number; ypad: number }) {
  const [x0, x1] = x.range();
  const [y0, y1] = y.range();
  xt.forEach((t) => g.append("line").attr("x1", x(t)).attr("x2", x(t)).attr("y1", y0).attr("y2", y1).attr("stroke", o.grid).attr("stroke-dasharray", o.dash));
  yt.forEach((t) => g.append("line").attr("x1", x0).attr("x2", x1).attr("y1", y(t)).attr("y2", y(t)).attr("stroke", o.grid).attr("stroke-dasharray", o.dash));
  return () => {
    const axes: [d3.Axis<number>, number, number][] = [
      [d3.axisBottom<number>(x).tickValues(xt).tickSize(-5).tickPadding(o.xpad).tickFormat((d) => String(d)), 0, y0],
      [d3.axisTop<number>(x).tickValues(xt).tickSize(-5).tickFormat(() => ""), 0, y1],
      [d3.axisLeft<number>(y).tickValues(yt).tickSize(-5).tickPadding(o.ypad).tickFormat((d) => String(d)), x0, 0],
      [d3.axisRight<number>(y).tickValues(yt).tickSize(-5).tickFormat(() => ""), x1, 0],
    ];
    axes.forEach(([a, tx, ty]) => {
      const s = g.append("g").attr("transform", `translate(${tx},${ty})`).call(a as any);
      s.selectAll("path").attr("stroke", o.color).attr("stroke-width", o.width);
      s.selectAll("line").attr("stroke", o.color);
      s.selectAll("text").attr("fill", "#222").attr("font-size", o.size).attr("font-family", FONT);
    });
  };
}

function dots(g: Sel, data: [number, number][], x: any, y: any, fill: string, stroke = "#111", r = 4.2, sw = 0.9) {
  g.append("g").selectAll("circle").data(data).join("circle")
    .attr("cx", (d) => x(d[0])).attr("cy", (d) => y(d[1])).attr("r", r)
    .attr("fill", fill).attr("stroke", stroke).attr("stroke-width", sw);
}

function letter(g: Sel, x: number, y: number, s: string) {
  g.append("rect").attr("x", x).attr("y", y).attr("width", 19).attr("height", 19).attr("fill", "#fff").attr("stroke", "#333").attr("stroke-width", 1.2);
  g.append("text").attr("x", x + 9.5).attr("y", y + 14.5).attr("text-anchor", "middle").attr("font-size", 15).attr("font-weight", "bold").attr("fill", "#111").text(s);
}

const PT_ROWS = ["upper crust", "lower crust", "sediments", "oceanic crust"];
const PT_FILLS = [LIGHT, DARK, YEL, "#000"];

function scatterPanel(g: Sel, x: any, y: any, xt: number[], title: string, layers: Layer[], gray: [number, number][] | null, lx: number, label: string) {
  const yt = [1, 1.5, 2, 2.5, 3, 3.5, 4];
  const x0 = x.range()[0], x1 = x.range()[1];
  const finish = frame(g, x, y, xt, yt, { color: "#444", width: 1, grid: "#222", size: 11, dash: "1 9.5", xpad: 5, ypad: 3 });
  const clipId = "clip" + label;
  g.append("clipPath").attr("id", clipId).append("rect").attr("x", x0).attr("y", 25).attr("width", x1 - x0).attr("height", 481);
  const plot = g.append("g").attr("clip-path", `url(#${clipId})`);
  if (gray) dots(plot, gray, x, y, "#bdbdbd", "#fff", 4, 0.9);
  layers.forEach(([rows, fill]) => dots(plot, flat(rows), x, y, fill));
  finish();
  text(g, (x0 + x1) / 2, 17, title);
  text(g, (x0 + x1) / 2 - (label === "a" ? 0 : 13), 533, "Temperature (°C)");
  const h = gray ? 78 : 61;
  g.append("rect").attr("x", lx).attr("y", 34).attr("width", 88).attr("height", h).attr("fill", "#fff").attr("stroke", "#333").attr("stroke-width", 1.2);
  const ys = [41, 57, 72, 88];
  PT_ROWS.forEach((n, i) => {
    g.append("circle").attr("cx", lx + 9).attr("cy", ys[i]).attr("r", 3.9).attr("fill", PT_FILLS[i]).attr("stroke", "#111").attr("stroke-width", 0.9);
    text(g, lx + 20, ys[i] + 4, n, 11, "start");
  });
  if (gray) {
    g.append("circle").attr("cx", lx + 9).attr("cy", 104).attr("r", 3.4).attr("fill", "#bdbdbd");
    const t = text(g, lx + 20, 108, "P", 11, "start");
    t.append("tspan").attr("font-size", 6).attr("dy", 1).text("max");
    t.append("tspan").attr("dy", -1).text("T data");
  }
  letter(g, x1 - 25, 479, label);
}

function ptPanel(g: Sel, top: number, title: string, values: number[], labelX: number) {
  const x = d3.scaleLinear().domain([10, 50]).range([623, 969]);
  const y = d3.scaleLinear().domain([2.4, 4]).range([top + 346, top]);
  const xt = d3.range(10, 51, 5);
  const yt = [2.5, 3, 3.5, 4];
  const finish = frame(g, x, y, xt, yt, { color: "#000", width: 2, grid: "#222", size: 11, dash: "1 9.5", xpad: 2, ypad: 2 });
  finish();
  text(g, 796, top - 7, title);
  const yl = text(g, 0, 0, "P/T (10", 11).attr("transform", `translate(${labelX},${top + 173}) rotate(-90)`);
  yl.append("tspan").attr("font-size", 8).attr("dy", -4).text("-3");
  yl.append("tspan").attr("dy", 4).text(" GPa/°C)");
  const line = d3.line<number>().x((_, i) => x(ages[i])).y((d) => y(d));
  g.append("path").attr("d", line(values)).attr("fill", "none").attr("stroke", "#000").attr("stroke-width", 2);
  values.forEach((v, i) => {
    g.append("circle").attr("cx", x(ages[i])).attr("cy", y(v)).attr("r", 3.6).attr("fill", ageColors[i]).attr("stroke", "#000").attr("stroke-width", 0.9);
  });
  g.append("rect").attr("x", 627).attr("y", top + 5).attr("width", 62).attr("height", 59).attr("fill", "#fff").attr("stroke", "#000").attr("stroke-width", 1.2);
  ageNames.forEach((n, i) => {
    const ly = top + 12 + i * 11.4;
    g.append("circle").attr("cx", 646).attr("cy", ly).attr("r", 3).attr("fill", ageColors[i]).attr("stroke", "#000").attr("stroke-width", 0.8);
    text(g, 662, ly + 3.3, n, 9, "start");
  });
}

const App = () => {
  const ref = useRef<SVGSVGElement>(null);

  useEffect(() => {
    const svg = d3.select(ref.current);
    svg.selectAll("*").remove();
    const root: Sel = svg.append("g").attr("font-family", FONT);

    // a
    const xa = d3.scaleLinear().domain([250, 650]).range([44, 524]);
    const ya = d3.scaleLinear().domain([1, 4]).range([506, 25]);
    const aLayers: Layer[] = [[aSediments, YEL], [aOceanic, "#000"], [aLower, DARK], [aLowerFill, DARK], [aSedimentsOver, YEL], [aUpper, LIGHT], [aLowerOver, DARK]];
    const grayAll = aLayers.flatMap(([rows]) => flat(rows));
    scatterPanel(root, xa, ya, d3.range(250, 651, 50), "PmaxT", aLayers, null, 426, "a");
    text(root, 0, 0, "Pressure (GPa)").attr("transform", "translate(19,265) rotate(-90)");

    // b
    const xb = d3.scaleLinear().domain([250, 700]).range([578, 1057]);
    const bLayers: Layer[] = [[bSediments, YEL], [bOceanic, "#000"], [bLower, DARK], [bUpper, LIGHT], [bLowerOver, DARK]];
    scatterPanel(root, xb, ya, d3.range(250, 701, 50), "PTmax", bLayers, grayAll, 961, "b");
    text(root, 0, 0, "Pressure (GPa)").attr("transform", "translate(552,265) rotate(-90)");

    // c
    const xc = d3.scaleLinear().domain([1, 65]).range([57, 496]);
    const yc = d3.scaleLinear().domain([0.5, 17]).range([1029, 592]);
    const finish = frame(root, xc, yc, [10, 20, 30, 40, 50, 60], d3.range(1, 18), { color: "#777", width: 1, grid: "#aaa", size: 10, dash: "1 4", xpad: 4, ypad: 3 });
    const clipC = root.append("clipPath").attr("id", "clipc");
    clipC.append("rect").attr("x", 57).attr("y", 592).attr("width", 439).attr("height", 437);
    const pc = root.append("g").attr("clip-path", "url(#clipc)");
    const lineC = d3.line<[number, number]>().x((d) => xc(d[0])).y((d) => yc(d[1])).curve(d3.curveMonotoneX);
    const lineS = d3.line<[number, number]>().x((d) => xc(d[0])).y((d) => yc(d[1]));
    [...depthCurves].reverse().forEach((c, i) => {
      pc.append("path").attr("d", lineC(c)).attr("fill", "none").attr("stroke", depthColors[6 - i]).attr("stroke-width", 1.2);
    });
    pc.append("path").attr("d", lineS(upperGrad)).attr("fill", "none").attr("stroke", "#5a5aff").attr("stroke-width", 0.9);
    pc.append("path").attr("d", lineS(lowerGrad)).attr("fill", "none").attr("stroke", "#7cf07c").attr("stroke-width", 0.9);
    dots(pc, upperGrad, xc, yc, "#0000f0", "none", 3.2, 0);
    dots(pc, lowerGrad, xc, yc, "#00ee00", "none", 3.2, 0);
    finish();
    text(root, 277, 583, "Thermal gradient for different depths vs natural", 10);
    text(root, 284, 1054, "Subduction age (Ma)", 10.5);
    text(root, 0, 0, "Thermal gradient (°C/km)", 10.5).attr("transform", "translate(36,810) rotate(-90)");
    root.append("rect").attr("x", 415).attr("y", 597).attr("width", 76).attr("height", 152).attr("fill", "#fff").attr("stroke", "#777");
    text(root, 453.5, 608, "Reference", 9.5);
    text(root, 453.5, 620, "depths", 9.5);
    depthNames.forEach((n, i) => {
      const ly = 631 + i * 12.2;
      root.append("line").attr("x1", 421.5).attr("x2", 450.5).attr("y1", ly).attr("y2", ly).attr("stroke", depthColors[i]).attr("stroke-width", 1.2);
      text(root, 454, ly + 3.5, n, 9.5, "start");
    });
    ([["upper", "#5a5aff", "#0000f0", 728], ["lower", "#7cf07c", "#00ee00", 740]] as [string, string, string, number][]).forEach(([n, c, f, ly]) => {
      root.append("line").attr("x1", 421.5).attr("x2", 450.5).attr("y1", ly).attr("y2", ly).attr("stroke", c);
      root.append("circle").attr("cx", 436).attr("cy", ly).attr("r", 3.2).attr("fill", f);
      text(root, 454, ly + 3.5, n, 9.5, "start");
    });
    letter(root, 64, 1006.5, "c");

    // d, e
    ptPanel(root, 585, "P/T upper crust", ptUpper, 599);
    letter(root, 941, 909, "d");
    ptPanel(root, 971, "P/T lower crust", ptLower, 595);
    letter(root, 941, 1295, "e");
    text(root, 796, 1346, "subduction age (Ma)");
  }, []);

  return <svg ref={ref} width={1072} height={1352} style={{ position: "absolute", left: 0, top: 0, background: "#fff" }} />;
};

export default App;
